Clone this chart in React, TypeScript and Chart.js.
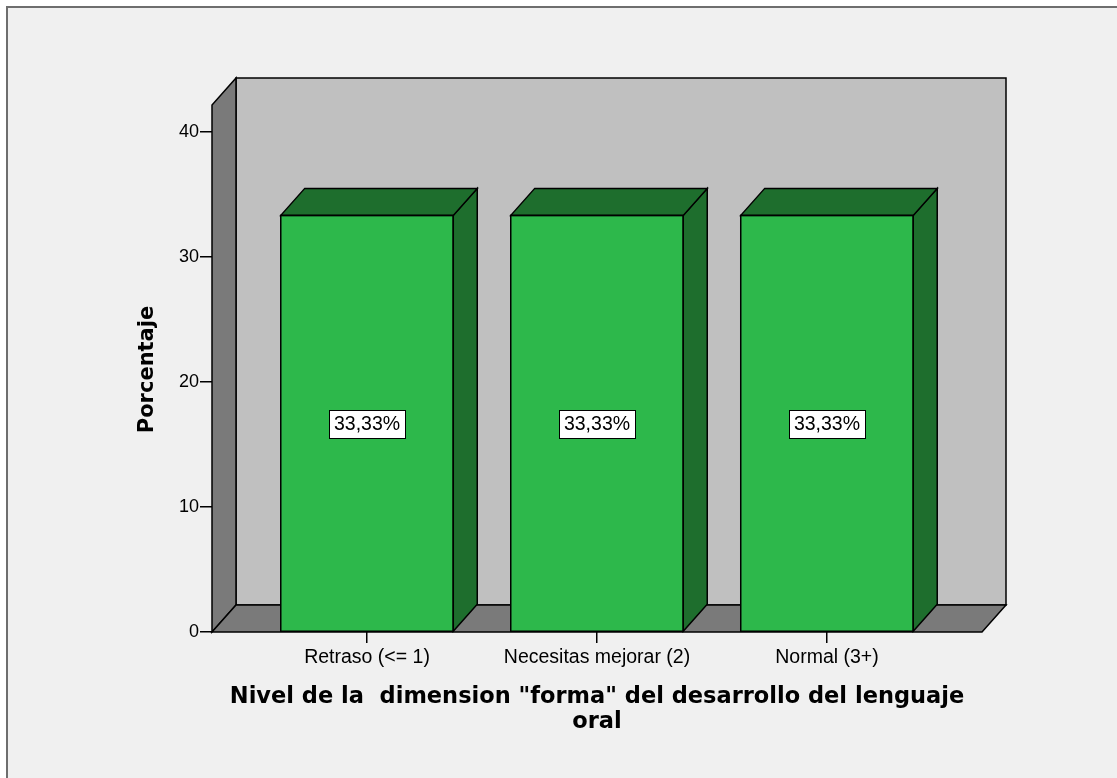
import React, { useEffect, useRef } from "react";
import { Chart, registerables } from "chart.js";

Chart.register(...registerables);

// ---- data ----
const categories = ["Retraso (<= 1)", "Necesitas mejorar (2)", "Normal (3+)"];
const percentages = [33.33, 33.33, 33.33];
const valueLabels = ["33,33%", "33,33%", "33,33%"];
const yTickValues = [0, 10, 20, 30, 40];
const yTitle = "Porcentaje";
const xTitleLines = ['Nivel de la  dimension "forma" del desarrollo del lenguaje', "oral"];

// ---- style constants ----
const DEPTH_X = 24;
const DEPTH_Y = 27;
const BG = "#f0f0f0";
const WALL_BACK = "#c0c0c0";
const WALL_SIDE = "#7a7a7a";
const BAR_FRONT = "#2db84b";
const BAR_SIDE = "#1e6e2d";
const TICK_FAMILY = "'Liberation Sans', Arial, sans-serif";
const TICK_SIZE = 19.5;

const threeDPlugin = {
  id: "threeD",
  beforeDraw(chart: any) {
    const { ctx, width, height, chartArea } = chart;
    const { left, right, top, bottom } = chartArea;
    ctx.save();
    ctx.fillStyle = "#ffffff";
    ctx.fillRect(0, 0, width, height);
    ctx.fillStyle = BG;
    ctx.fillRect(7, 7, width, height);
    ctx.strokeStyle = "#6e6e6e";
    ctx.lineWidth = 2;
    ctx.beginPath();
    ctx.moveTo(7, height);
    ctx.lineTo(7, 7);
    ctx.lineTo(width, 7);
    ctx.stroke();

    ctx.lineWidth = 1.5;
    ctx.strokeStyle = "#000";
    ctx.lineJoin = "miter";
    // back wall
    ctx.fillStyle = WALL_BACK;
    ctx.beginPath();
    ctx.rect(left + DEPTH_X, top - DEPTH_Y, right - left, bottom - top);
    ctx.fill();
    ctx.stroke();
    // side wall
    ctx.fillStyle = WALL_SIDE;
    ctx.beginPath();
    ctx.moveTo(left, bottom);
    ctx.lineTo(left, top);
    ctx.lineTo(left + DEPTH_X, top - DEPTH_Y);
    ctx.lineTo(left + DEPTH_X, bottom - DEPTH_Y);
    ctx.closePath();
    ctx.fill();
    ctx.stroke();
    // floor
    ctx.beginPath();
    ctx.moveTo(left, bottom);
    ctx.lineTo(left + DEPTH_X, bottom - DEPTH_Y);
    ctx.lineTo(right + DEPTH_X, bottom - DEPTH_Y);
    ctx.lineTo(right, bottom);
    ctx.closePath();
    ctx.fill();
    ctx.stroke();
    ctx.restore();
  },
  afterDatasetsDraw(chart: any) {
    const { ctx, chartArea } = chart;
    const meta = chart.getDatasetMeta(0);
    const yScale = chart.scales.y;
    ctx.save();
    ctx.lineWidth = 1.5;
    ctx.strokeStyle = "#000";
    meta.data.forEach((bar: any, i: number) => {
      const L = bar.x - bar.width / 2;
      const R = bar.x + bar.width / 2;
      const T = bar.y;
      const B = bar.base;
      ctx.fillStyle = BAR_SIDE;
      // side face
      ctx.beginPath();
      ctx.moveTo(R, T);
      ctx.lineTo(R + DEPTH_X, T - DEPTH_Y);
      ctx.lineTo(R + DEPTH_X, B - DEPTH_Y);
      ctx.lineTo(R, B);
      ctx.closePath();
      ctx.fill();
      ctx.stroke();
      // top face
      ctx.beginPath();
      ctx.moveTo(L, T);
      ctx.lineTo(L + DEPTH_X, T - DEPTH_Y);
      ctx.lineTo(R + DEPTH_X, T - DEPTH_Y);
      ctx.lineTo(R, T);
      ctx.closePath();
      ctx.fill();
      ctx.stroke();
      // front outline
      ctx.strokeRect(L, T, R - L, B - T);

      // value label
      const cy = yScale.getPixelForValue(percentages[i] / 2);
      ctx.font = `${TICK_SIZE}px ${TICK_FAMILY}`;
      const text = valueLabels[i];
      const tw = ctx.measureText(text).width;
      const bw = Math.round(tw + 10);
      const bh = 28;
      const bx = Math.round(bar.x - bw / 2) + 0.5;
      const by = Math.round(cy - bh / 2) + 0.5;
      ctx.fillStyle = "#fff";
      ctx.lineWidth = 1;
      ctx.fillRect(bx, by, bw, bh);
      ctx.strokeRect(bx, by, bw, bh);
      ctx.fillStyle = "#000";
      ctx.textAlign = "center";
      ctx.textBaseline = "middle";
      ctx.fillText(text, bar.x, cy + 1);
      ctx.lineWidth = 1.5;
    });

    // axis titles
    const { left, right, top, bottom } = chartArea;
    ctx.fillStyle = "#000";
    ctx.textAlign = "center";
    ctx.textBaseline = "middle";
    ctx.font = "bold 21px 'DejaVu Sans', Verdana, sans-serif";
    ctx.save();
    ctx.translate(left - 64, (top + bottom) / 2 + 1);
    ctx.rotate(-Math.PI / 2);
    ctx.fillText(yTitle, 0, 0);
    ctx.restore();

    ctx.font = "bold 22.5px 'DejaVu Sans', Verdana, sans-serif";
    ctx.textBaseline = "alphabetic";
    const cx = (left + right) / 2;
    xTitleLines.forEach((line, k) => {
      ctx.fillText(line, cx, bottom + 71 + k * 25);
    });
    ctx.restore();
  },
};

export default function App() {
  const canvasRef = useRef<HTMLCanvasElement | null>(null);

  useEffect(() => {
    const canvas = canvasRef.current;
    if (!canvas) return;
    const chart = new Chart(canvas, {
      type: "bar",
      data: {
        datasets: [
          {
            data: percentages.map((v, i) => ({ x: i, y: v })),
            backgroundColor: BAR_FRONT,
            borderColor: "#000",
            borderWidth: 0,
            barPercentage: 0.75,
            categoryPercentage: 1,
          },
        ],
      },
      plugins: [threeDPlugin],
      options: {
        animation: false,
        responsive: false,
        devicePixelRatio: 1,
        layout: { padding: { top: 105, right: 135, left: 0, bottom: 0 } },
        plugins: {
          legend: { display: false },
          tooltip: { enabled: false },
          title: { display: false },
        },
        scales: {
          x: {
            type: "linear",
            min: -0.674,
            max: 2.674,
            offset: false,
            afterFit: (s: any) => {
              s.height = 146;
            },
            afterBuildTicks: (s: any) => {
              s.ticks = categories.map((_, i) => ({ value: i }));
            },
            grid: {
              display: true,
              offset: false,
              drawOnChartArea: false,
              drawTicks: true,
              tickLength: 11,
              color: "#000",
              lineWidth: 1.5,
            },
            border: { display: false },
            ticks: {
              autoSkip: false,
              maxRotation: 0,
              padding: 3,
              color: "#000",
              font: { family: TICK_FAMILY, size: TICK_SIZE },
              callback: (v: any) => categories[v as number] ?? "",
            },
          },
          y: {
            type: "linear",
            min: 0,
            max: 42.16,
            afterFit: (s: any) => {
              s.width = 212;
            },
            afterBuildTicks: (s: any) => {
              s.ticks = yTickValues.map((v) => ({ value: v }));
            },
            grid: {
              display: true,
              drawOnChartArea: false,
              drawTicks: true,
              tickLength: 12,
              color: "#000",
              lineWidth: 1.5,
            },
            border: { display: false },
            ticks: {
              padding: 1,
              color: "#000",
              font: { family: TICK_FAMILY, size: 18 },
            },
          },
        },
      },
    } as any);
    return () => chart.destroy();
  }, []);

  return (
    <canvas
      ref={canvasRef}
      width={1117}
      height={778}
      style={{ position: "absolute", left: 0, top: 0, width: 1117, height: 778 }}
    />
  );
}
